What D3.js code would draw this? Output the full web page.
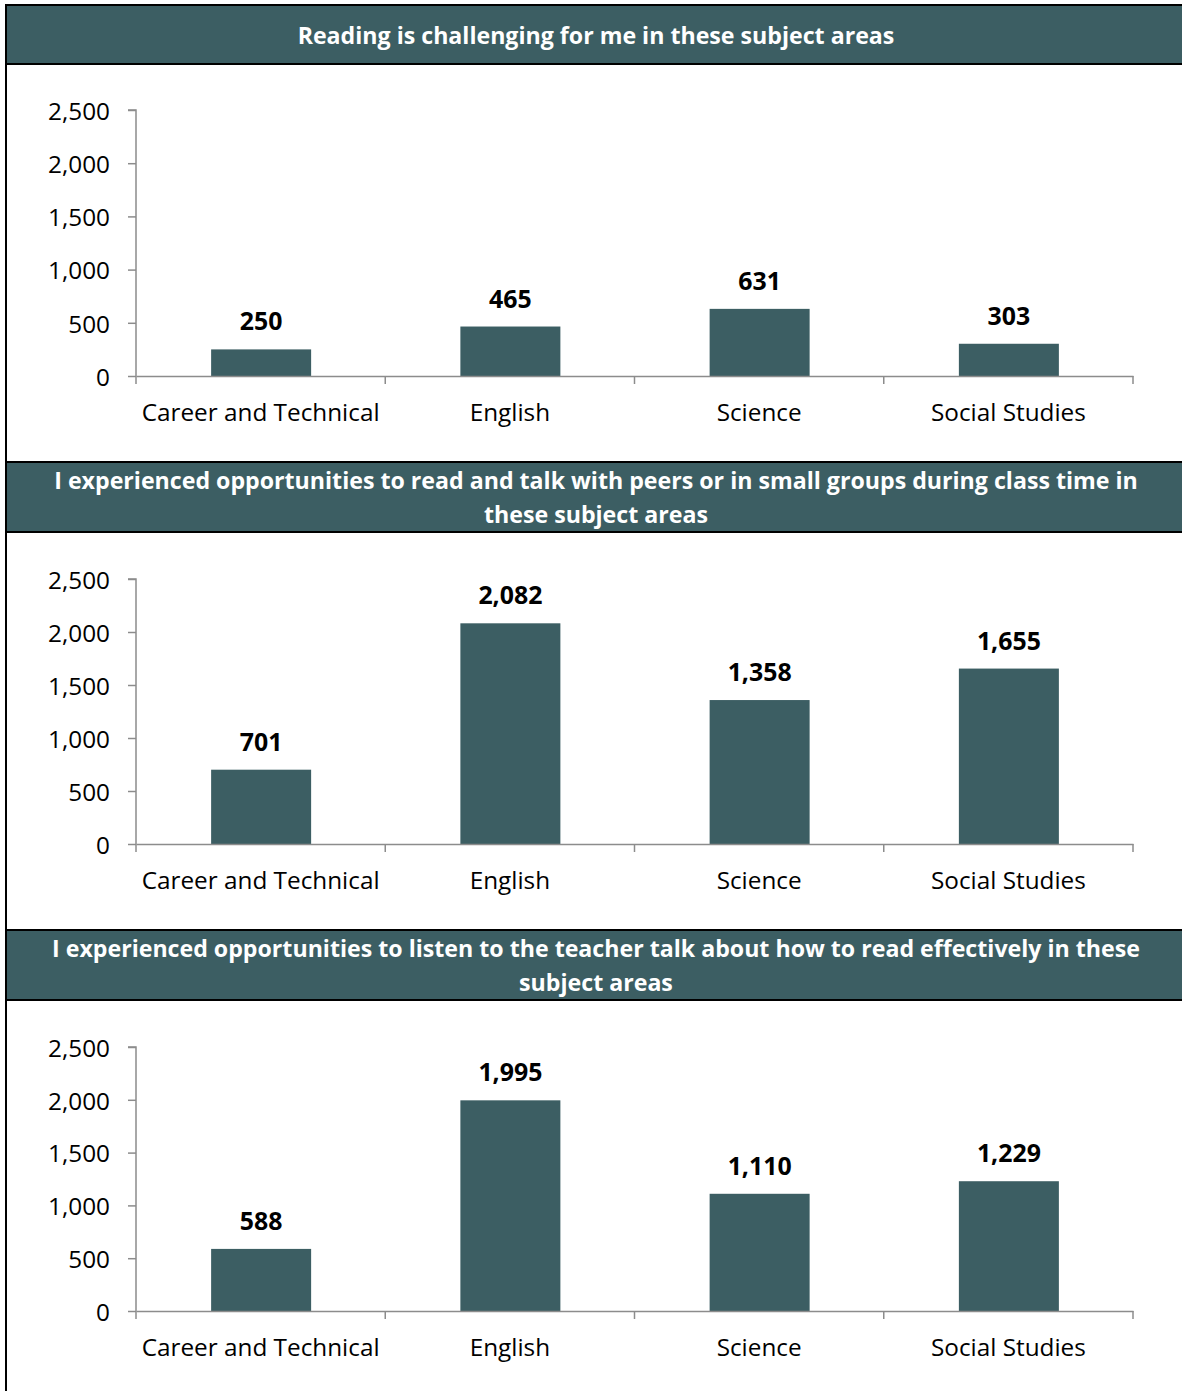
<!DOCTYPE html>
<html><head><meta charset="utf-8">
<script src="https://cdn.jsdelivr.net/npm/d3@7"></script>
<style>html,body{margin:0;padding:0;background:#fff;}svg{display:block;}</style>
</head><body>
<svg id="c" width="1182" height="1391"></svg>
<script>
const categories = ["Career and Technical", "English", "Science", "Social Studies"];
const titles = [
  ["Reading is challenging for me in these subject areas"],
  ["I experienced opportunities to read and talk with peers or in small groups during class time in", "these subject areas"],
  ["I experienced opportunities to listen to the teacher talk about how to read effectively in these", "subject areas"]
];
const valuesChallenging = [250, 465, 631, 303];
const valuesPeers = [701, 2082, 1358, 1655];
const valuesTeacher = [588, 1995, 1110, 1229];
const yTicks = [0, 500, 1000, 1500, 2000, 2500];

const seriesList = [valuesChallenging, valuesPeers, valuesTeacher];
const FONT = "'Open Sans', 'Noto Sans', sans-serif";
const DARK = "#3c5e63";
const svg = d3.select("#c");

const panels = [
  {top: 5, headH: 59, yTop: 110, yBot: 376, bottom: 462},
  {top: 462, headH: 70, yTop: 579, yBot: 844, bottom: 930},
  {top: 930, headH: 70, yTop: 1047, yBot: 1311, bottom: 1391}
];
const xLeft = 136, xRight = 1133;

function fitSize(text, weight, target, base) {
  const t = svg.append("text").attr("font-family", FONT).attr("font-weight", weight)
    .attr("font-size", base).text(text);
  const w = t.node().getComputedTextLength();
  t.remove();
  return base * target / w;
}
const tickSize = fitSize("Career and Technical", 400, 238, 24);
const titleSize = fitSize(titles[0][0], 700, 597, 24);
const valueSize = fitSize("2,082", 700, 64, 24);

panels.forEach((p, i) => {
  const g = svg.append("g");
  g.append("rect").attr("x", 5).attr("y", p.top).attr("width", 1177).attr("height", p.headH).attr("fill", DARK);
  g.append("line").attr("x1", 5).attr("x2", 1182).attr("y1", p.top).attr("y2", p.top).attr("stroke", "#000").attr("stroke-width", 2);
  g.append("line").attr("x1", 5).attr("x2", 1182).attr("y1", p.top + p.headH).attr("y2", p.top + p.headH).attr("stroke", "#000").attr("stroke-width", 2);
  const lines = titles[i];
  const lh = 34;
  const cy = p.top + p.headH / 2 + 1;
  lines.forEach((ln, k) => {
    g.append("text").attr("x", 596).attr("y", cy + (k - (lines.length - 1) / 2) * lh)
      .attr("dy", "0.35em").attr("text-anchor", "middle")
      .attr("font-family", FONT).attr("font-weight", 700).attr("font-size", titleSize)
      .attr("fill", "#fff").text(ln);
  });

  const xb = d3.scaleBand().domain(categories).range([xLeft, xRight]);
  const y = d3.scaleLinear().domain([0, 2500]).range([p.yBot, p.yTop]);
  const vals = seriesList[i];

  g.selectAll("rect.bar").data(categories).join("rect").attr("class", "bar")
    .attr("x", d => xb(d) + xb.bandwidth() / 2 - 49.5)
    .attr("width", 100)
    .attr("y", (d, j) => y(vals[j]))
    .attr("height", (d, j) => p.yBot - y(vals[j]))
    .attr("fill", DARK);

  g.selectAll("text.val").data(categories).join("text").attr("class", "val")
    .attr("x", d => xb(d) + xb.bandwidth() / 2 + 0.5)
    .attr("y", (d, j) => y(vals[j]) - 19)
    .attr("text-anchor", "middle")
    .attr("font-family", FONT).attr("font-weight", 700).attr("font-size", valueSize)
    .attr("fill", "#000").text((d, j) => d3.format(",")(vals[j]));

  const ya = g.append("g").attr("transform", `translate(${xLeft},0)`)
    .call(d3.axisLeft(y).tickValues(yTicks).tickFormat(d3.format(",")).tickSize(8).tickPadding(18));
  ya.select(".domain").attr("stroke", "#8c8c8c").attr("stroke-width", 1.5).attr("d", `M-8,${p.yTop}H0V${p.yBot}`);
  ya.selectAll(".tick line").attr("stroke", "#8c8c8c").attr("stroke-width", 1.5);
  ya.selectAll(".tick text").attr("font-family", FONT).attr("font-size", tickSize).attr("fill", "#000").attr("dy", "0.38em");

  const xa = g.append("g").attr("transform", `translate(0,${p.yBot})`)
    .call(d3.axisBottom(xb).tickSize(0).tickPadding(28));
  xa.select(".domain").attr("stroke", "#8c8c8c").attr("stroke-width", 1.5);
  xa.selectAll(".tick text").attr("font-family", FONT).attr("font-size", tickSize).attr("fill", "#000");
  const bounds = [xLeft].concat(categories.map(c => xb(c) + xb.bandwidth()));
  xa.selectAll("line.bnd").data(bounds).join("line").attr("class", "bnd")
    .attr("x1", d => d).attr("x2", d => d).attr("y1", 0).attr("y2", 8)
    .attr("stroke", "#8c8c8c").attr("stroke-width", 1.5);
});

svg.append("line").attr("x1", 6).attr("x2", 6).attr("y1", 4).attr("y2", 1391).attr("stroke", "#000").attr("stroke-width", 2);
</script>
</body></html>
